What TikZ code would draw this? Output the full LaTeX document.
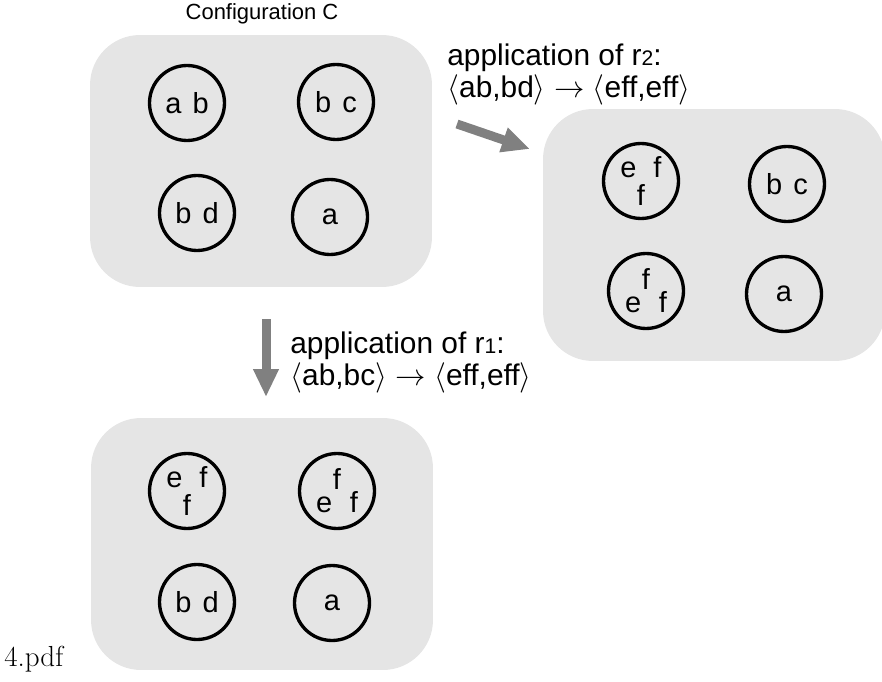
\documentclass[tikz,border=0pt]{standalone}
\usepackage{fontspec}
\newfontfamily\arialfont{Liberation Sans}
\usepackage{tikz}
\usetikzlibrary{arrows.meta,calc}
\definecolor{boxgray}{RGB}{229,229,229}
\definecolor{arrgray}{RGB}{128,128,128}

\begin{document}
\begin{tikzpicture}[x=0.02cm, y=-0.02cm,
  cfg/.style={fill=boxgray, rounded corners=1cm,
              minimum width=6.84cm, minimum height=5.04cm},
  mem/.style={draw, circle, line width=1.9pt, minimum size=1.5cm,
              inner sep=0pt, align=center,
              font=\arialfont\fontsize{16.5}{14}\selectfont},
  lbl/.style={align=left, anchor=north west, inner sep=0pt,
              font=\arialfont\fontsize{17}{18}\selectfont},
  bigarr/.style={color=arrgray, line width=0.18cm,
                 -{Triangle[length=0.56cm, width=0.48cm]}}
]
\useasboundingbox (0,0) rectangle (882,682);

\node[font=\arialfont\fontsize{12.5}{12}\selectfont, anchor=base] (title) at (262,20) {Configuration C};

% configurations
\node[cfg] (cfgC)  at (261,161) {};
\node[cfg] (cfgR2) at (714,235) {};
\node[cfg] (cfgR1) at (262,544) {};

% membranes of C
\node[mem] (c1) at (187,103) {a\hspace{6.3pt}b};
\node[mem] (c2) at (336,102) {b\hspace{6.3pt}c};
\node[mem] (c3) at (197,213) {b\hspace{6.3pt}d};
\node[mem] (c4) at (330,217) {a};

% after r2
\node[mem] (s1) at (641,181) {e\hspace{9.6pt}f\\[1.5pt]f};
\node[mem] (s2) at (787,184) {b\hspace{6.3pt}c};
\node[mem] (s3) at (646,291) {f\\[-1pt]e\hspace{10pt}f};
\node[mem] (s4) at (784,294) {a};

% after r1
\node[mem] (t1) at (187,491) {e\hspace{9.6pt}f\\[1.5pt]f};
\node[mem] (t2) at (337,491) {f\\[-1pt]e\hspace{10pt}f};
\node[mem] (t3) at (197,602) {b\hspace{6.3pt}d};
\node[mem] (t4) at (332,603) {a};

% rule applications
\coordinate (r2from) at (457,124);
\coordinate (r2to)   at (530,149);
\coordinate (r1from) at (266,319);
\coordinate (r1to)   at (266,397);
\draw[bigarr] (r2from) -- (r2to);
\draw[bigarr] (r1from) -- (r1to);

\node[lbl] (r2lbl) at (447,44) {application of r{\fontsize{12}{12}\selectfont 2}:\\$\langle$ab,bd$\rangle \rightarrow \langle$eff,eff$\rangle$};
\node[lbl] (r1lbl) at (290,332) {application of r{\fontsize{12}{12}\selectfont 1}:\\$\langle$ab,bc$\rangle \rightarrow \langle$eff,eff$\rangle$};

\node[anchor=base west, inner sep=0pt, font=\fontsize{16.5}{16}\selectfont] (fname) at (4,666) {4.pdf};
\end{tikzpicture}
\end{document}
